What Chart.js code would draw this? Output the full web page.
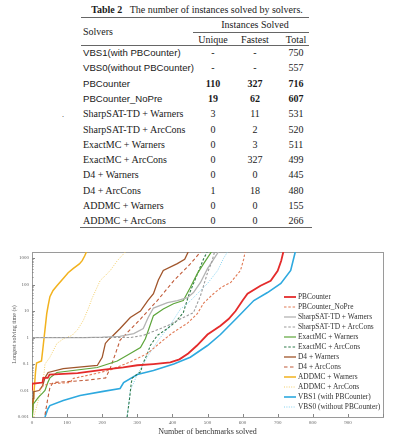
<!DOCTYPE html>
<html><head><meta charset="utf-8">
<script src="https://cdn.jsdelivr.net/npm/chart.js@4"></script>
<style>
html,body{margin:0;padding:0;background:#fff;width:399px;height:441px;overflow:hidden;position:relative}
.t{position:absolute;white-space:nowrap;color:#1a1a1a;line-height:1}
.serif{font-family:"Liberation Serif","Times New Roman",serif;font-size:10px}
.sans{font-family:"Liberation Sans",Arial,sans-serif;font-size:9.6px}
.c{transform:translate(-50%,-50%)}
.l{transform:translate(0,-50%)}
.rule{position:absolute;height:0;border-top:1px solid #666}
#chartBox{position:absolute;left:0;top:240px;width:399px;height:201px}
.lg{position:absolute;font-family:"Liberation Serif","Times New Roman",serif;font-size:7.4px;color:#333;white-space:nowrap;line-height:1;transform:translate(0,-50%)}
</style></head><body>
<div id="table"></div>
<div id="chartBox"><canvas id="c" width="399" height="201"></canvas></div>
<div id="legend"></div>
<script>
// ---------- table data ----------
const tableTitleBold = 'Table 2';
const tableTitle = 'The number of instances solved by solvers.';
const solverNames = ['VBS1(with PBCounter)','VBS0(without PBCounter)','PBCounter','PBCounter_NoPre','SharpSAT-TD + Warners','SharpSAT-TD + ArcCons','ExactMC + Warners','ExactMC + ArcCons','D4 + Warners','D4 + ArcCons','ADDMC + Warners','ADDMC + ArcCons'];
const uniqueCol  = ['-','-','110','19','3','0','0','0','0','1','0','0'];
const fastestCol = ['-','-','327','62','11','2','3','327','0','18','0','0'];
const totalCol   = ['750','557','716','607','531','520','511','499','445','480','155','266'];

// ---------- chart data ----------
const seriesNames = ['PBCounter','PBCounter_NoPre','SharpSAT-TD + Warners','SharpSAT-TD + ArcCons','ExactMC + Warners','ExactMC + ArcCons','D4 + Warners','D4 + ArcCons','ADDMC + Warners','ADDMC + ArcCons','VBS1 (with PBCounter)','VBS0 (without PBCounter)'];
const xTickLabels = ['0','100','200','300','400','500','600','700','800','900'];
const yTickValues = [0.001,0.01,0.1,1,10,100,1000];
const yTickLabels = ['0.001','0.01','0.1','1','10','100','1000'];

const pbCounter = [[0,0.01],[0,0.018],[30,0.02],[32,0.03],[45,0.03],[50,0.04],[130,0.045],[200,0.06],[260,0.075],[300,0.09],[346,0.1],[394,0.115],[420,0.15],[445,0.25],[470,0.5],[500,1.3],[537,2.8],[560,5],[580,10],[600,25],[614,45],[651,90],[680,140],[700,330],[710,800],[716,1700]];
const pbCounterNoPre = [[20,0.01],[31,0.015],[50,0.018],[110,0.02],[115,0.028],[186,0.045],[223,0.06],[280,0.12],[329,0.25],[374,0.8],[400,1.5],[443,3.5],[471,8],[489,20],[517,45],[540,80],[566,120],[594,340],[603,900],[607,1700]];
const sharpWarners = [[0,1],[150,1],[200,1.03],[250,1.1],[290,1.4],[317,2.2],[331,5.7],[346,13],[386,21],[414,25],[443,32],[460,50],[480,120],[500,400],[515,800],[531,1700]];
const sharpArcCons = [[0,1],[280,1],[317,1.2],[350,1.8],[386,2.8],[431,5.7],[460,8.7],[480,38],[500,280],[512,700],[520,1700]];
const exactWarners = [[1,0.001],[3,0.003],[18,0.0055],[30,0.008],[37,0.01],[45,0.02],[51,0.03],[71,0.048],[186,0.074],[243,0.13],[280,0.25],[309,0.42],[323,0.9],[331,1.8],[346,6.7],[374,12],[403,19],[431,25],[451,77],[471,260],[489,620],[511,1700]];
const exactArcCons = [[271,0.001],[278,0.005],[283,0.02],[286,0.03],[309,0.05],[317,0.11],[329,0.25],[337,0.5],[357,1.2],[386,2.2],[410,4],[431,8.7],[446,38],[466,170],[489,950],[499,1700]];
const d4Warners = [[1,0.001],[3,0.005],[5,0.009],[20,0.01],[30,0.015],[37,0.03],[46,0.048],[89,0.067],[186,0.088],[200,0.18],[209,0.6],[217,0.8],[231,1.2],[251,2.2],[280,5.7],[309,10],[330,25],[346,45],[360,150],[374,340],[414,620],[435,900],[445,1700]];
const d4ArcCons = [[37,0.0012],[45,0.005],[51,0.013],[60,0.02],[150,0.024],[210,0.03],[223,0.07],[240,0.3],[251,0.8],[280,2],[309,5],[357,25],[404,140],[451,600],[480,1700]];
const addmcWarners = [[0,0.001],[3,0.003],[6,0.01],[10,0.05],[13,0.11],[27,0.13],[32,0.5],[37,2],[42,8],[46,16],[51,35],[60,60],[71,90],[89,170],[103,280],[117,400],[135,600],[143,800],[150,1200],[155,1700]];
const addmcArcCons = [[5,0.001],[15,0.003],[25,0.01],[33,0.03],[37,0.1],[51,0.18],[71,0.6],[90,0.9],[114,1.2],[130,2],[146,4.4],[160,12],[171,30],[194,140],[223,340],[243,800],[266,1700]];
const vbs1 = [[37,0.001],[45,0.002],[51,0.0027],[89,0.0042],[137,0.0065],[203,0.0093],[251,0.012],[261,0.02],[300,0.04],[346,0.057],[404,0.1],[451,0.18],[500,0.5],[537,1.3],[585,5.7],[632,25],[671,50],[709,110],[737,340],[750,1700]];
const vbs0 = [[271,0.001],[280,0.01],[300,0.04],[330,0.2],[360,0.8],[394,3],[423,12],[443,19],[471,45],[500,110],[529,340],[546,1000],[557,1700]];

const seriesData = [pbCounter,pbCounterNoPre,sharpWarners,sharpArcCons,exactWarners,exactArcCons,d4Warners,d4ArcCons,addmcWarners,addmcArcCons,vbs1,vbs0];

// ---------- styles ----------
const seriesStyles = [
  {color:'#E42B2B', width:1.8, dash:[], order:0},
  {color:'#E07A55', width:1.1, dash:[2.5,1.8], order:1},
  {color:'#B4B4B4', width:1.3, dash:[], order:2},
  {color:'#9A9A9A', width:1.1, dash:[2.5,1.8], order:1.9},
  {color:'#5DA53A', width:1.2, dash:[], order:4},
  {color:'#2F7A4A', width:1.1, dash:[2.5,1.8], order:5},
  {color:'#A0552B', width:1.3, dash:[], order:6},
  {color:'#C05A38', width:1.1, dash:[3.5,2.5], order:7},
  {color:'#F2B21E', width:1.5, dash:[], order:8},
  {color:'#F3CF6A', width:1.0, dash:[1,1.4], order:9},
  {color:'#2EA9DF', width:1.6, dash:[], order:10},
  {color:'#84D2F0', width:1.0, dash:[1,1.4], order:11}
];

// ---------- build table ----------
(function(){
  const T = document.getElementById('table');
  let h = '';
  h += `<div class="t serif c" style="left:197px;top:10px"><b>${tableTitleBold}</b>&nbsp;&nbsp;&nbsp;${tableTitle}</div>`;
  h += `<div class="rule" style="left:81px;width:228px;top:17px"></div>`;
  h += `<div class="t serif l" style="left:83px;top:32px">Solvers</div>`;
  h += `<div class="t serif c" style="left:255px;top:25px">Instances Solved</div>`;
  h += `<div class="rule" style="left:193px;width:116px;top:32px;border-top-width:0.8px"></div>`;
  h += `<div class="t serif c" style="left:213px;top:39.5px">Unique</div>`;
  h += `<div class="t serif c" style="left:255px;top:39.5px">Fastest</div>`;
  h += `<div class="t serif c" style="left:296px;top:39.5px">Total</div>`;
  h += `<div class="rule" style="left:81px;width:228px;top:45px;border-top-width:0.8px"></div>`;
  solverNames.forEach((name,i)=>{
    const y = 53 + i*15.3;
    const fam = i < 4 ? 'sans' : 'serif';
    const b = (i===2||i===3) ? 'font-weight:bold;' : '';
    h += `<div class="t ${fam} l" style="left:83px;top:${y}px">${name}</div>`;
    h += `<div class="t serif c" style="left:213px;top:${y}px;${b}">${uniqueCol[i]}</div>`;
    h += `<div class="t serif c" style="left:255px;top:${y}px;${b}">${fastestCol[i]}</div>`;
    h += `<div class="t serif c" style="left:296px;top:${y}px;${b}">${totalCol[i]}</div>`;
  });
  h += `<div class="t serif c" style="left:63px;top:115px;font-size:8px">.</div>`;
  h += `<div class="rule" style="left:80px;width:232px;top:227px"></div>`;
  T.innerHTML = h;
})();

// ---------- legend (HTML, from series arrays) ----------
(function(){
  const L = document.getElementById('legend');
  let h = '';
  seriesNames.forEach((name,i)=>{
    const s = seriesStyles[i];
    const y = 297 + i*10;
    const da = s.dash.length ? `stroke-dasharray="${s.dash.join(',')}"` : '';
    h += `<svg style="position:absolute;left:284px;top:${y-2}px" width="12" height="4"><line x1="0" y1="2" x2="12" y2="2" stroke="${s.color}" stroke-width="${Math.max(1,s.width)}" ${da}/></svg>`;
    h += `<div class="lg" style="left:298px;top:${y}px">${name}</div>`;
  });
  L.innerHTML = h;
})();

// ---------- chart ----------
const framePlugin = {
  id:'frame',
  beforeDatasetsDraw(chart){
    const {ctx, chartArea:a, scales} = chart;
    ctx.save();
    ctx.strokeStyle = '#9a9a9a';
    ctx.lineWidth = 1;
    ctx.strokeRect(Math.round(a.left)+0.5, Math.round(a.top)+0.5, Math.round(a.right-a.left), Math.round(a.bottom-a.top));
    ctx.strokeStyle = '#888';
    ctx.beginPath();
    scales.x.ticks.forEach(t=>{
      const x = Math.round(scales.x.getPixelForValue(t.value))+0.5;
      ctx.moveTo(x, a.bottom); ctx.lineTo(x, a.bottom-3);
    });
    for (let e=-3; e<=3; e++){
      for (let m=1; m<=9; m++){
        const v = m*Math.pow(10,e);
        if (v > 1700) continue;
        const y = Math.round(scales.y.getPixelForValue(v))+0.5;
        const len = m===1 ? 3 : 1.5;
        ctx.moveTo(a.left, y); ctx.lineTo(a.left+len, y);
      }
    }
    ctx.stroke();
    ctx.restore();
  }
};

new Chart(document.getElementById('c'), {
  type:'line',
  data:{
    datasets: seriesNames.map((name,i)=>({
      label:name,
      data: seriesData[i].map(p=>({x:p[0], y:p[1]})),
      borderColor: seriesStyles[i].color,
      borderWidth: seriesStyles[i].width,
      borderDash: seriesStyles[i].dash,
      order: seriesStyles[i].order,
      pointRadius:0, fill:false, tension:0
    }))
  },
  options:{
    responsive:false, animation:false, devicePixelRatio:1,
    layout:{padding:{top:12,right:16,left:0,bottom:0}},
    plugins:{legend:{display:false}, tooltip:{enabled:false}},
    scales:{
      x:{
        type:'linear', min:0, max:1000,
        afterFit:s=>{s.height=24;},
        grid:{display:false, drawTicks:false},
        border:{display:false},
        ticks:{stepSize:100, padding:3, autoSkip:false, maxRotation:0,
          font:{size:5, family:'"Liberation Serif"'}, color:'#666',
          callback:(v,i)=> (xTickLabels[i] !== undefined ? xTickLabels[i] : '')},
        title:{display:true, text:'Number of benchmarks solved',
          font:{size:8, family:'"Liberation Serif"'}, color:'#333', padding:{top:0,bottom:4}}
      },
      y:{
        type:'logarithmic', min:0.001, max:1700,
        afterFit:s=>{s.width=32;},
        afterBuildTicks:s=>{ s.ticks = yTickValues.map(v=>({value:v})); },
        grid:{display:false, drawTicks:false},
        border:{display:false},
        ticks:{padding:3, autoSkip:false,
          font:{size:5, family:'"Liberation Serif"'}, color:'#666',
          callback:(v,i)=> yTickLabels[i]},
        title:{display:true, text:'Longest solving time (s)',
          font:{size:6, family:'"Liberation Serif"'}, color:'#555', padding:{top:11,bottom:0}}
      }
    }
  },
  plugins:[framePlugin]
});
</script>
</body></html>
